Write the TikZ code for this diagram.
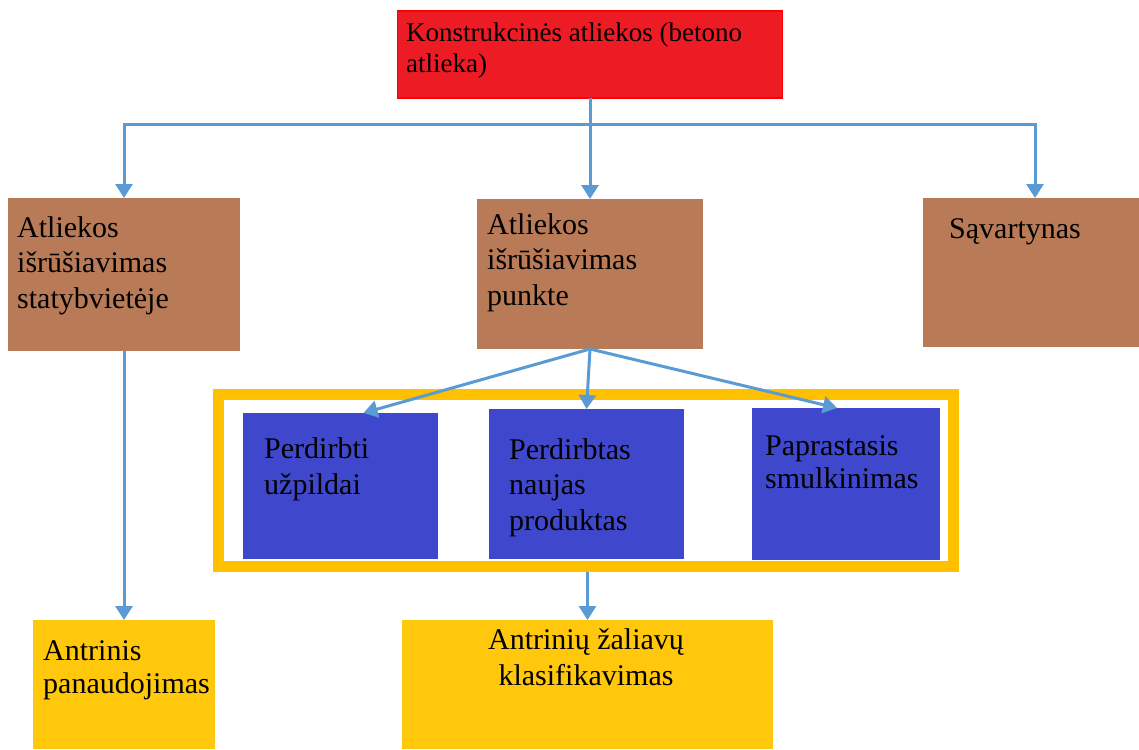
\documentclass[tikz,border=0pt]{standalone}
\usepackage{fontspec}
\setmainfont{Liberation Serif}
\usetikzlibrary{arrows.meta}
\definecolor{redfill}{RGB}{237,28,36}
\definecolor{redline}{RGB}{255,0,0}
\definecolor{brownfill}{RGB}{185,123,87}
\definecolor{bluefill}{RGB}{63,72,204}
\definecolor{yellowfill}{RGB}{255,200,13}
\definecolor{framecol}{RGB}{255,192,0}
\definecolor{arrowcol}{RGB}{91,155,213}
\begin{document}
\begin{tikzpicture}[x=1pt,y=-1pt,
  box/.style={anchor=north west, inner sep=0pt, outer sep=0pt},
  brownbox/.style={box, fill=brownfill},
  bluebox/.style={box, fill=bluefill},
  yellowbox/.style={box, fill=yellowfill},
  txt/.style={anchor=base west, align=left, inner sep=0pt, font=\fontsize{30}{35.5}\selectfont},
  conn/.style={draw=arrowcol, line width=3pt},
  arr/.style={conn, -{Triangle[width=17pt,length=14pt]}},
]
\useasboundingbox (0,0) rectangle (1139,749);
% boxes
\node[box, fill=redfill, draw=redline, line width=1.5pt, minimum width=385pt, minimum height=87pt] (top) at (397.5,11) {};
\node[brownbox, minimum width=232pt, minimum height=153pt] (b1) at (8,198) {};
\node[brownbox, minimum width=226pt, minimum height=150pt] (b2) at (477,199) {};
\node[brownbox, minimum width=216pt, minimum height=149pt] (b3) at (923,198) {};
\node[draw=framecol, line width=11pt, minimum width=735pt, minimum height=172pt, inner sep=0pt, outer sep=5.5pt, anchor=north west] (frame) at (212.5,388.5) {};
\node[bluebox, minimum width=195pt, minimum height=146pt] (p1) at (243,413) {};
\node[bluebox, minimum width=195pt, minimum height=150pt] (p2) at (489,409) {};
\node[bluebox, minimum width=188pt, minimum height=152pt] (p3) at (752,408) {};
\node[yellowbox, minimum width=182pt, minimum height=129pt] (y1) at (33,620) {};
\node[yellowbox, minimum width=371pt, minimum height=129pt] (y2) at (402,620) {};
% connectors
\coordinate (jc) at (590,124);
\draw[conn] (top.south) -- (jc);
\draw[arr] (jc) -| (b1.north);
\draw[arr] (jc) -- (b2.north);
\draw[arr] (jc) -| ([xshift=4pt]b3.north);
\draw[arr] (b1.south) -- (y1.north);
\draw[arr] (b2.south) -- ([xshift=23pt]p1.north);
\draw[arr] (b2.south) -- (p2.north);
\draw[arr] (b2.south) -- ([xshift=-9pt]p3.north);
\draw[arr] (frame.south -| y2.north) -- (y2.north);
% texts (anchored at the baseline of the last line)
\node[txt, font=\fontsize{27}{31}\selectfont] (t0) at (406,73) {Konstrukcinės atliekos (betono\\atlieka)};
\node[txt] (t1) at (17,308) {Atliekos\\išrūšiavimas\\statybvietėje};
\node[txt] (t2) at (487,305) {Atliekos\\išrūšiavimas\\punkte};
\node[txt] (t3) at (949,238) {Sąvartynas};
\node[txt] (t4) at (264,494) {Perdirbti\\užpildai};
\node[txt] (t5) at (509,530) {Perdirbtas\\naujas\\produktas};
\node[txt, font=\fontsize{30}{33}\selectfont] (t6) at (765,488) {Paprastasis\\smulkinimas};
\node[txt, font=\fontsize{30}{33}\selectfont] (t7) at (43,693) {Antrinis\\panaudojimas};
\node[txt, anchor=base, align=center] (t8) at (586,685) {Antrinių žaliavų\\klasifikavimas};
\end{tikzpicture}
\end{document}
